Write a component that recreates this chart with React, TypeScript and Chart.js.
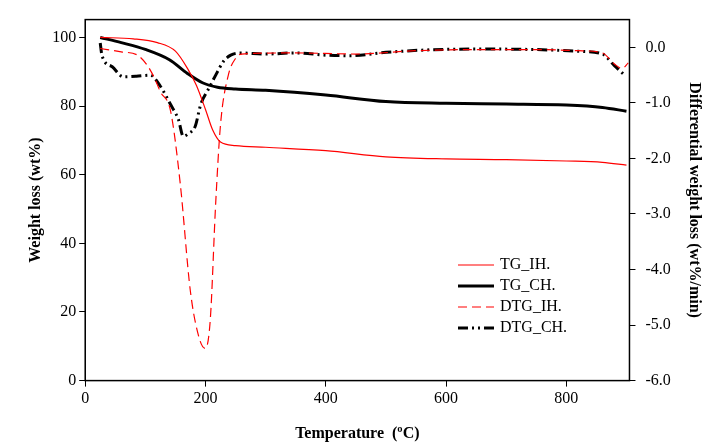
import { useEffect, useRef } from "react";
import { Chart, registerables } from "chart.js";

Chart.register(...registerables);

const tgIH: [number, number][] = [
  [25, 100], [80, 99.6], [120, 98.5], [150, 96], [170, 91], [185, 86], [200, 79], [212, 73], [225, 69.5], [250, 68.5],
  [300, 68], [400, 67], [500, 65.2], [600, 64.6], [700, 64.4], [800, 64], [860, 63.6], [900, 62.8],
];
const tgCH: [number, number][] = [
  [25, 100], [60, 98.5], [100, 96.5], [140, 93.5], [170, 89.5], [195, 86.8], [220, 85.5], [250, 85], [300, 84.6],
  [400, 83.2], [500, 81.3], [600, 80.8], [700, 80.6], [800, 80.3], [860, 79.6], [900, 78.5],
];
const dtgIH: [number, number][] = [
  [25, -0.02], [60, -0.08], [87, -0.14], [103, -0.32], [115, -0.55], [125, -0.8], [142, -1.15], [158, -2.45],
  [175, -4.4], [190, -5.25], [200, -5.42], [208, -4.9], [217, -2.8], [225, -1.39], [238, -0.5], [250, -0.2],
  [260, -0.12], [350, -0.1], [450, -0.12], [550, -0.06], [650, -0.04], [750, -0.04], [820, -0.06], [860, -0.1],
  [880, -0.3], [893, -0.38], [903, -0.28],
];
const dtgCH: [number, number][] = [
  [25, 0.08], [28, -0.15], [45, -0.35], [63, -0.53], [85, -0.52], [108, -0.5], [125, -0.7], [142, -1.03],
  [155, -1.3], [163, -1.6], [172, -1.55], [183, -1.42], [192, -1.03], [205, -0.75], [217, -0.5], [230, -0.25],
  [242, -0.14], [258, -0.1], [300, -0.12], [350, -0.1], [400, -0.14], [440, -0.15], [500, -0.09], [560, -0.05],
  [650, -0.03], [750, -0.04], [820, -0.07], [860, -0.12], [880, -0.33], [895, -0.48],
];
const xTicks = [0, 200, 400, 600, 800];
const yTicks = [0, 20, 40, 60, 80, 100];
const y1Ticks = [-6, -5, -4, -3, -2, -1, 0];

const legendItems = [
  { label: "TG_IH.", color: "#ff0000", width: 1.2, dash: [] as number[] },
  { label: "TG_CH.", color: "#000000", width: 3, dash: [] as number[] },
  { label: "DTG_IH.", color: "#ff0000", width: 1.2, dash: [9, 5] },
  { label: "DTG_CH.", color: "#000000", width: 3, dash: [10, 4, 2, 4, 2, 4] },
];

const toPts = (a: [number, number][]) => a.map(([x, y]) => ({ x, y }));

const framePlugin = {
  id: "frame",
  afterDraw(chart: any) {
    const { ctx, chartArea: a } = chart;
    ctx.save();
    ctx.strokeStyle = "#000";
    ctx.lineWidth = 1.5;
    ctx.strokeRect(a.left, a.top, a.right - a.left, a.bottom - a.top);
    ctx.font = "16px 'Liberation Serif'";
    ctx.textBaseline = "middle";
    legendItems.forEach((it, i) => {
      const y = 265 + i * 21;
      ctx.beginPath();
      ctx.setLineDash(it.dash);
      ctx.strokeStyle = it.color;
      ctx.lineWidth = it.width;
      ctx.moveTo(458, y);
      ctx.lineTo(494, y);
      ctx.stroke();
      ctx.setLineDash([]);
      ctx.fillStyle = "#000";
      ctx.fillText(it.label, 500, y);
    });
    ctx.restore();
  },
};

export default function App() {
  const ref = useRef<HTMLCanvasElement | null>(null);
  useEffect(() => {
    if (!ref.current) return;
    const font = { family: "'Liberation Serif'", size: 16 };
    const titleFont = { family: "'Liberation Serif'", size: 16, weight: "bold" as const };
    const ds = { pointRadius: 0, cubicInterpolationMode: "monotone" as const };
    const chart = new Chart(ref.current, {
      type: "line",
      data: {
        datasets: [
          { ...ds, label: "TG_IH.", data: toPts(tgIH), yAxisID: "y", borderColor: "#ff0000", borderWidth: 1.2 },
          { ...ds, label: "TG_CH.", data: toPts(tgCH), yAxisID: "y", borderColor: "#000", borderWidth: 3 },
          { ...ds, label: "DTG_IH.", data: toPts(dtgIH), yAxisID: "y1", borderColor: "#ff0000", borderWidth: 1.2, borderDash: [9, 5] },
          { ...ds, label: "DTG_CH.", data: toPts(dtgCH), yAxisID: "y1", borderColor: "#000", borderWidth: 3, borderDash: [10, 4, 2, 4, 2, 4] },
        ],
      },
      options: {
        animation: false,
        responsive: false,
        layout: { padding: { top: 4, right: 4, left: 22, bottom: 4 } },
        plugins: { legend: { display: false }, tooltip: { enabled: false } },
        scales: {
          x: {
            type: "linear", min: 0, max: 905,
            afterBuildTicks: (s: any) => { s.ticks = xTicks.map((v) => ({ value: v })); },
            ticks: { color: "#000", font, maxRotation: 0 },
            grid: { drawOnChartArea: false, tickLength: 6, color: "#000" },
            border: { color: "#000" },
            title: { display: true, text: "Temperature  (ºC)", color: "#000", font: titleFont, padding: { top: 12, bottom: 0 } },
          },
          y: {
            min: 0, max: 105.2,
            afterBuildTicks: (s: any) => { s.ticks = yTicks.map((v) => ({ value: v })); },
            ticks: { color: "#000", font },
            grid: { drawOnChartArea: false, tickLength: 6, color: "#000" },
            border: { color: "#000" },
            title: { display: true, text: "Weight loss (wt%)", color: "#000", font: titleFont },
          },
          y1: {
            position: "right", min: -6, max: 0.5,
            afterBuildTicks: (s: any) => { s.ticks = y1Ticks.map((v) => ({ value: v })); },
            ticks: { color: "#000", font, padding: 10, callback: (v: any) => Number(v).toFixed(1) },
            grid: { drawOnChartArea: false, tickLength: 6, color: "#000" },
            border: { color: "#000" },
            title: { display: true, text: "Differential weight loss (wt%/min)", color: "#000", font: titleFont },
          },
        },
      },
      plugins: [framePlugin],
    });
    return () => chart.destroy();
  }, []);
  return (
    <div style={{ position: "absolute", left: 0, top: 0, width: 712, height: 447, background: "#fff" }}>
      <canvas ref={ref} width={712} height={447} />
    </div>
  );
}
